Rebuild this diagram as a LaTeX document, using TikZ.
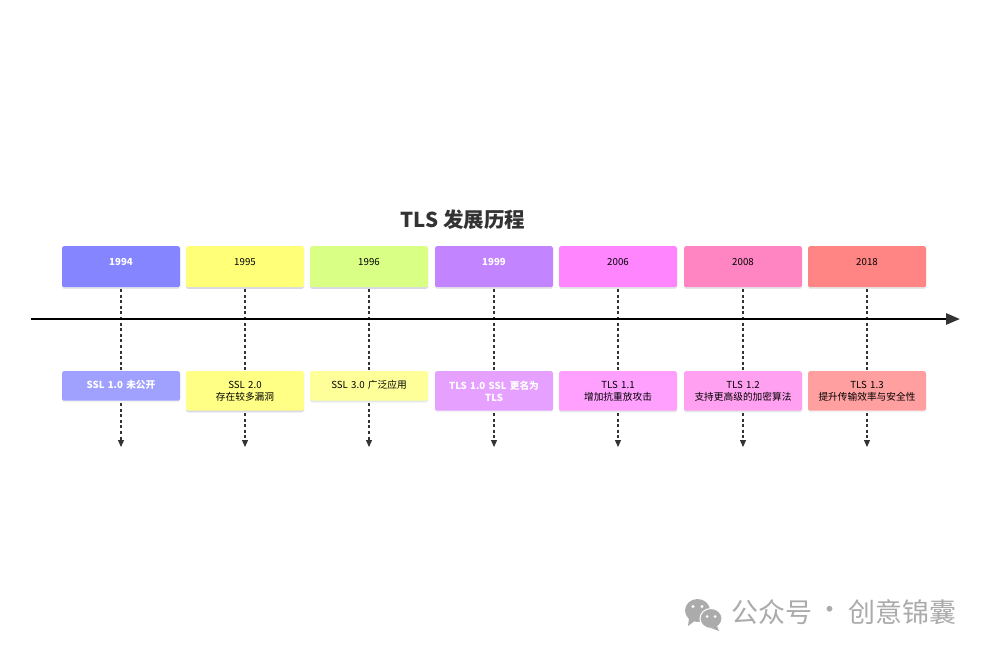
\documentclass[tikz,border=0pt]{standalone}
\usepackage{fontspec}
\setmainfont{Noto Sans CJK SC}
\usetikzlibrary{arrows.meta}
\definecolor{inkd}{HTML}{333333}
\definecolor{wmgray}{HTML}{ABABAB}
\definecolor{ya}{HTML}{8585FF}
\definecolor{yb}{HTML}{FFFF78}
\definecolor{yc}{HTML}{D9FF85}
\definecolor{yd}{HTML}{C285FF}
\definecolor{ye}{HTML}{FF85FF}
\definecolor{yf}{HTML}{FF85C2}
\definecolor{yg}{HTML}{FF8585}
\definecolor{ea}{HTML}{A0A0FF}
\definecolor{eb}{HTML}{FFFF85}
\definecolor{ec}{HTML}{FFFF99}
\definecolor{ed}{HTML}{E6A0FF}
\definecolor{ee}{HTML}{FFA0FF}
\definecolor{ef}{HTML}{FFA0F0}
\definecolor{eg}{HTML}{FF9F9F}
\definecolor{sa}{HTML}{D8D8E8}
\definecolor{sb}{HTML}{E4E8E8}
\newcommand{\yrtxt}[1]{\raisebox{1.5pt}[0pt][0pt]{#1}}
\tikzset{
  x=1pt,y=-1pt,
  evbox/.style={rounded corners=1.6pt,inner sep=0pt,minimum width=118pt,text width=116pt,align=center,
     anchor=north,font=\fontsize{9.7}{10}\selectfont,text=black},
  yearbox/.style={evbox,minimum height=41pt},
  onebox/.style={evbox,minimum height=29.5pt,execute at begin node={\vspace*{2pt}}},
  twobox/.style={evbox,minimum height=39.5pt,execute at begin node={\vspace*{2pt}}},
  strip/.style={preaction={draw=none,fill=#1,transform canvas={yshift=-1.6pt}}},
  light/.style={text=white,font=\fontsize{9.7}{10}\selectfont\bfseries},
  dashline/.style={draw=inkd,line width=1.1pt,dash pattern=on 3pt off 2.6pt},
  dasharrow/.style={dashline,-{Triangle[length=7pt,width=6pt,inkd]}},
  axisline/.style={draw=black,line width=2.6pt,-{Triangle[length=14pt,width=11pt,inkd]}},
  wmtext/.style={font=\fontsize{27}{29}\selectfont,text=wmgray},
}
\begin{document}
\begin{tikzpicture}
\useasboundingbox[fill=white] (0,0) rectangle (988,653);
\node[font=\fontsize{20.5}{23}\selectfont\bfseries,text=inkd] (title) at (463,220) {TLS 发展历程};
% year boxes
\node[yearbox,fill=ya,strip=sb,light] (y1) at (121,246) {\yrtxt{1994}};
\node[yearbox,fill=yb,strip=sa] (y2) at (245,246) {\yrtxt{1995}};
\node[yearbox,fill=yc,strip=sa] (y3) at (369,246) {\yrtxt{1996}};
\node[yearbox,fill=yd,strip=sb,light] (y4) at (494,246) {\yrtxt{1999}};
\node[yearbox,fill=ye,strip=sb] (y5) at (618,246) {\yrtxt{2006}};
\node[yearbox,fill=yf,strip=sb] (y6) at (743,246) {\yrtxt{2008}};
\node[yearbox,fill=yg,strip=sb] (y7) at (867,246) {\yrtxt{2018}};
% event boxes
\node[onebox,fill=ea,strip=sb!50,light] (e1) at (121,371) {SSL 1.0 未公开};
\node[twobox,fill=eb,strip=sa] (e2) at (245,371) {SSL 2.0\\存在较多漏洞};
\node[onebox,fill=ec,strip=sb] (e3) at (369,371) {SSL 3.0 广泛应用};
\node[twobox,fill=ed,strip=sb!50,light] (e4) at (494,371) {TLS 1.0 SSL 更名为\\TLS};
\node[twobox,fill=ee,strip=sb] (e5) at (618,371) {TLS 1.1\\增加抗重放攻击};
\node[twobox,fill=ef,strip=sb] (e6) at (743,371) {TLS 1.2\\支持更高级的加密算法};
\node[twobox,fill=eg,strip=sb!50] (e7) at (867,371) {TLS 1.3\\提升传输效率与安全性};
% free ends
\coordinate (z1) at (121,447);
\coordinate (z2) at (245,447);
\coordinate (z3) at (369,447);
\coordinate (z4) at (494,447);
\coordinate (z5) at (618,447);
\coordinate (z6) at (743,447);
\coordinate (z7) at (867,447);
\coordinate (axisL) at (31,319);
\coordinate (axisR) at (960,319);
% connectors
\foreach \i in {1,...,7}{
  \draw[dashline] ([yshift=-1.5pt]y\i.south) -- (e\i.north);
  \draw[dasharrow] ([yshift=-2pt]e\i.south) -- (z\i);
}
\draw[axisline] (axisL) -- (axisR);
% watermark
\fill[wmgray] (697.5,610.5) ellipse (12.5pt and 11.5pt);
\fill[wmgray] (689,618) -- (688,626) -- (696,620) -- cycle;
\fill[white] (693,606.5) circle (1.6pt) (702,606.5) circle (1.6pt);
\fill[wmgray,draw=white,line width=1pt] (711,618.5) ellipse (11pt and 10pt);
\fill[wmgray] (717,626) -- (719,631) -- (711,628) -- cycle;
\fill[white] (707,616.5) circle (1.5pt) (715,616.5) circle (1.5pt);
\node[wmtext,anchor=west,inner sep=0pt] (wm1) at (731,612.5) {公众号};
\node[wmtext,anchor=center,inner sep=0pt] (wm2) at (830,612.5) {·};
\node[wmtext,anchor=east,inner sep=0pt] (wm3) at (957,612.5) {创意锦囊};
\end{tikzpicture}
\end{document}
